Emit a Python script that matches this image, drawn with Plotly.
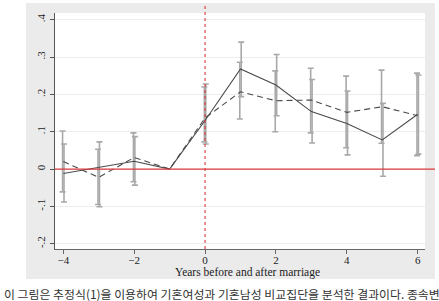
import plotly.graph_objects as go

years = [-4, -3, -2, -1, 0, 1, 2, 3, 4, 5, 6]
solid = [-0.012, 0.005, 0.021, 0.0, 0.130, 0.268, 0.225, 0.154, 0.122, 0.078, 0.147]
solid_lo = [-0.088, -0.101, -0.043, None, 0.067, 0.194, 0.143, 0.070, 0.038, -0.019, 0.040]
solid_hi = [0.067, 0.073, 0.087, None, 0.228, 0.340, 0.307, 0.240, 0.209, 0.176, 0.252]
dashed = [0.020, -0.022, 0.031, 0.0, 0.137, 0.207, 0.183, 0.185, 0.152, 0.167, 0.143]
dashed_lo = [-0.061, -0.095, -0.034, None, 0.073, 0.134, 0.100, 0.097, 0.057, 0.069, 0.036]
dashed_hi = [0.102, 0.053, 0.097, None, 0.220, 0.286, 0.263, 0.270, 0.249, 0.265, 0.257]

ytick_vals = [-0.2, -0.1, 0, 0.1, 0.2, 0.3, 0.4]
ytick_text = ["-.2", "-.1", "0", ".1", ".2", ".3", ".4"]
xtick_vals = [-4, -2, 0, 2, 4, 6]
xlabel = "Years before and after marriage"
caption = "이 그림은 추정식(1)을 이용하여 기혼여성과 기혼남성 비교집단을 분석한 결과이다. 종속변"

SERIF = "Liberation Serif, Times New Roman, serif"
BAR = "#a9a9a9"
LINE = "#4a4a4a"

fig = go.Figure()


def ci_trace(xs, vs, los, his, dodge):
    xx, yy, up, dn = [], [], [], []
    for x, v, lo, hi in zip(xs, vs, los, his):
        if lo is None:
            continue
        xx.append(x + dodge)
        yy.append(v)
        up.append(hi - v)
        dn.append(v - lo)
    return go.Scatter(
        x=xx, y=yy, mode="markers",
        marker=dict(size=1, color="rgba(0,0,0,0)"),
        error_y=dict(type="data", array=up, arrayminus=dn, symmetric=False,
                     color=BAR, thickness=1.6, width=3),
        hoverinfo="skip", showlegend=False,
    )


fig.add_trace(ci_trace(years, solid, solid_lo, solid_hi, 0.02))
fig.add_trace(ci_trace(years, dashed, dashed_lo, dashed_hi, -0.02))

fig.add_trace(go.Scatter(x=years, y=solid, mode="lines",
                         line=dict(color=LINE, width=1.1), showlegend=False))
fig.add_trace(go.Scatter(x=years, y=dashed, mode="lines",
                         line=dict(color=LINE, width=1.1, dash="6px,4px"),
                         showlegend=False))

# background panels (gray outer region, white plot region)
fig.add_shape(type="rect", xref="paper", yref="paper",
              x0=-29 / 370, x1=380 / 370, y0=-30 / 236, y1=246 / 236,
              fillcolor="#ebebeb", line_width=0, layer="below")
fig.add_shape(type="rect", xref="paper", yref="paper",
              x0=0, x1=1, y0=0, y1=1,
              fillcolor="white", line_width=0, layer="below")

# reference lines
fig.add_shape(type="line", xref="paper", yref="y", x0=0, x1=380 / 370, y0=0, y1=0,
              line=dict(color="#d93a3a", width=1.1))
fig.add_shape(type="line", xref="x", yref="paper", x0=0, x1=0, y0=0, y1=245 / 236,
              line=dict(color="#d93a3a", width=1.1, dash="dot"))

fig.add_annotation(text=xlabel, xref="paper", yref="paper", x=0.519, y=-23 / 236,
                   xanchor="center", yanchor="middle", showarrow=False,
                   font=dict(family=SERIF, size=11.5, color="#222"))
fig.add_annotation(text=caption, xref="paper", yref="paper", x=-53 / 370, y=-44 / 236,
                   xanchor="left", yanchor="middle", showarrow=False,
                   font=dict(family="Noto Sans CJK KR", size=11.9, color="#333"))

fig.update_layout(
    width=439, height=301,
    margin=dict(l=55, r=14, t=13, b=52),
    paper_bgcolor="white", plot_bgcolor="rgba(0,0,0,0)",
    font=dict(family=SERIF, size=11, color="#222"),
    xaxis=dict(range=[-4.234, 6.206], tickvals=xtick_vals, showgrid=False,
               zeroline=False, showline=True, linecolor="#666", linewidth=1.3,
               ticks="outside", ticklen=4, tickcolor="#666", tickwidth=1.2,
               ticklabelstandoff=-3,
               tickfont=dict(family=SERIF, size=11, color="#222")),
    yaxis=dict(range=[-0.214, 0.418], tickvals=ytick_vals, ticktext=ytick_text,
               tickangle=-90, showgrid=True, gridcolor="#ededed", gridwidth=1,
               zeroline=False, showline=True, linecolor="#555", linewidth=1.3,
               ticks="outside", ticklen=4, tickcolor="#555", tickwidth=1.2,
               tickfont=dict(family=SERIF, size=11, color="#222")),
)

fig.write_html("out.html")
